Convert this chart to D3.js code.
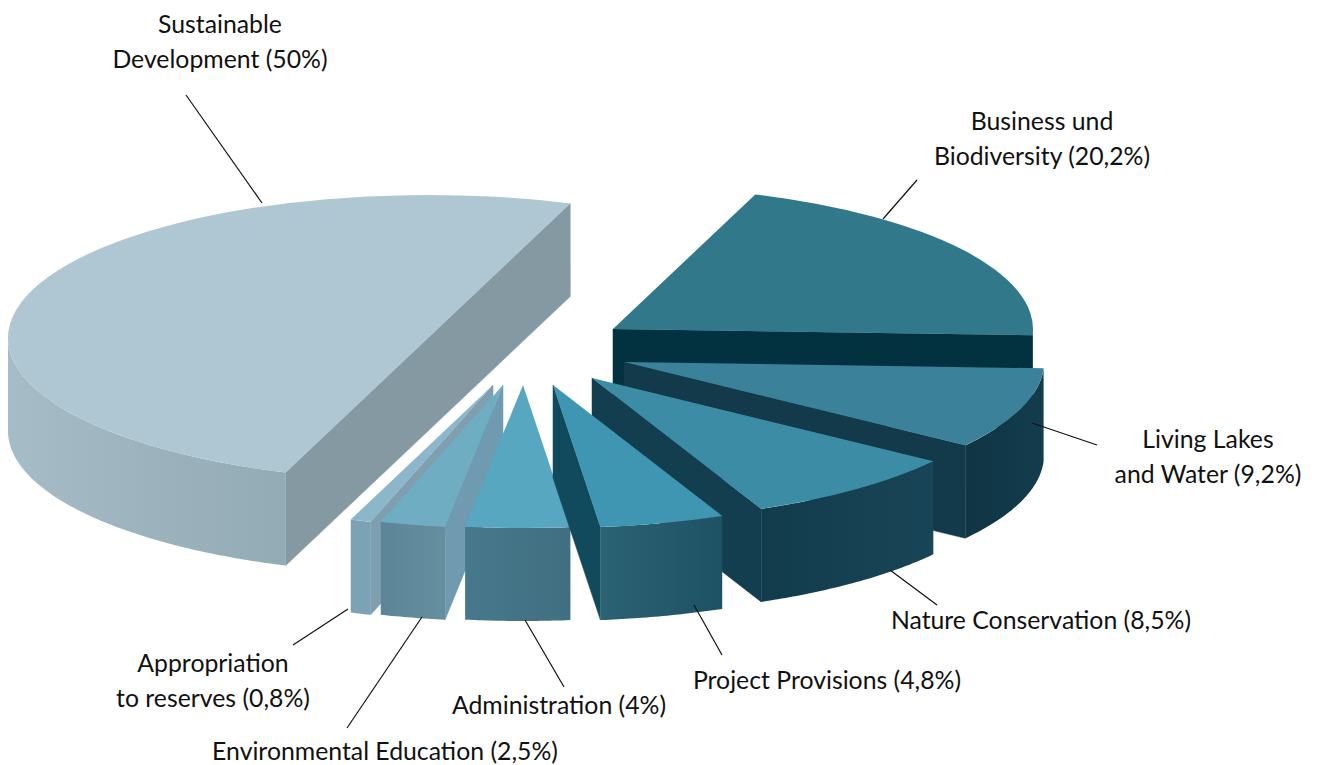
<!DOCTYPE html>
<html>
<head>
<meta charset="utf-8">
<style>
  html, body { margin: 0; padding: 0; background: #fff; }
  svg { display: block; }
  text { font-family: "Lato", sans-serif; font-size: 24.8px; fill: #111; text-anchor: middle; }
</style>
</head>
<body>
<svg id="chart" width="1317" height="765"></svg>
<script src="https://cdn.jsdelivr.net/npm/d3@7"></script>
<script>
// pie data, clockwise from the back right
var categories = ["Business und Biodiversity", "Living Lakes and Water", "Nature Conservation", "Project Provisions",
                  "Administration", "Environmental Education", "Appropriation to reserves", "Sustainable Development"]
var shares = [20.2, 9.2, 8.5, 4.8, 4, 2.5, 0.8, 50]
var labelLines = [
  ["Business und", "Biodiversity (20,2%)"],
  ["Living Lakes", "and Water (9,2%)"],
  ["Nature Conservation (8,5%)"],
  ["Project Provisions (4,8%)"],
  ["Administration (4%)"],
  ["Environmental Education (2,5%)"],
  ["Appropriation", "to reserves (0,8%)"],
  ["Sustainable", "Development (50%)"]
]

// layout of the exploded slices
var apex = [[613, 329], [624, 362], [592, 378], [553, 385], [523, 385], [503, 385], [493, 385], [428, 338]]
var labelAt = [[1042, 130], [1208, 448], [1041, 629], [827, 689], [559, 714], [385, 760], [213, 672], [220, 33]]
var leaders = [
  [[917, 180], [883, 219]], [[1097, 445], [1032, 423]], [[937, 605], [890, 570]], [[722, 655], [694, 605]],
  [[564, 687], [525, 620]], [[347, 728], [422, 617]], [[293, 645], [348, 609]], [[186, 95], [262, 203]]
]
var topColor = ["#31788a", "#3a8199", "#3d8ca6", "#3f96b2", "#57a7c0", "#6fadc2", "#8cb6c9", "#afc6d3"]
var cutColor = ["#02323f", "#123a4a", "#133e4f", "#114a5c", "#3f6f80", "#6f9ab0", "#7f9fb0", "#8599a3"]
var wallColor = [["#123a4a", "#123a4a"], ["#103545", "#133c4c"], ["#123c4c", "#184557"], ["#2b6274", "#1d5264"],
                 ["#47788c", "#3f6f80"], ["#5c8698", "#658e9f"], ["#7ba3b5", "#7ba3b5"], ["#a6bcc6", "#93abb5"]]
// drawing order, back to front
var drawOrder = [7, 0, 1, 2, 6, 5, 4, 3]

var rx = 420, ry = 143, depth = 93
var startAngle = 19.8 * Math.PI / 180

var svg = d3.select("#chart")
var defs = svg.append("defs")

var pie = d3.pie().sort(null).startAngle(startAngle).endAngle(startAngle + 2 * Math.PI)
var slices = pie(shares)

var arc = d3.arc().innerRadius(0).outerRadius(rx)
var toX = function(a){ return rx * Math.sin(a) }
var toY = function(a){ return -ry * Math.cos(a) }
var line = d3.line()

// outer wall between two angles, only the part turned to the viewer
var wallPoints = function(a0, a1){
  var from = Math.max(a0, Math.PI / 2), to = Math.min(a1, 1.5 * Math.PI)
  if (to <= from) return null
  var angles = d3.range(from, to, 0.01).concat([to])
  var upper = angles.map(function(a){ return [toX(a), toY(a)] })
  var lower = angles.slice().reverse().map(function(a){ return [toX(a), toY(a) + depth] })
  return upper.concat(lower)
}

// straight cut face from the apex out to the rim
var cutPoints = function(a){
  return [[0, 0], [toX(a), toY(a)], [toX(a), toY(a) + depth], [0, depth]]
}

// which cut faces turn to the viewer
var visibleCuts = function(s){
  var cuts = []
  if (s.endAngle < Math.PI || s.endAngle > 2 * Math.PI) cuts.push(s.endAngle)
  if (s.startAngle > Math.PI) cuts.push(s.startAngle)
  return cuts
}

drawOrder.forEach(function(i){
  var s = slices[i]
  var g = svg.append("g").attr("transform", "translate(" + apex[i][0] + "," + apex[i][1] + ")")

  visibleCuts(s).forEach(function(a){
    g.append("path").attr("d", line(cutPoints(a)) + "Z").attr("fill", cutColor[i]).attr("stroke", cutColor[i]).attr("stroke-width", 0.5)
  })

  var wall = wallPoints(s.startAngle, s.endAngle)
  if (wall){
    var grad = defs.append("linearGradient").attr("id", "wall" + i)
    grad.append("stop").attr("offset", "0%").attr("stop-color", wallColor[i][0])
    grad.append("stop").attr("offset", "100%").attr("stop-color", wallColor[i][1])
    g.append("path").attr("d", line(wall) + "Z").attr("fill", "url(#wall" + i + ")")
  }

  g.append("path")
    .attr("transform", "scale(1," + (ry / rx) + ")")
    .attr("d", arc(s))
    .attr("fill", topColor[i])
})

svg.selectAll("line.leader")
  .data(leaders)
  .enter()
  .append("line")
  .attr("class", "leader")
  .attr("x1", function(d){ return d[0][0] })
  .attr("y1", function(d){ return d[0][1] })
  .attr("x2", function(d){ return d[1][0] })
  .attr("y2", function(d){ return d[1][1] })
  .attr("stroke", "#111")
  .attr("stroke-width", 1.2)

labelLines.forEach(function(lines, i){
  lines.forEach(function(txt, j){
    svg.append("text")
      .attr("x", labelAt[i][0])
      .attr("y", labelAt[i][1] + j * 34.5)
      .text(txt)
  })
})
</script>
</body>
</html>
